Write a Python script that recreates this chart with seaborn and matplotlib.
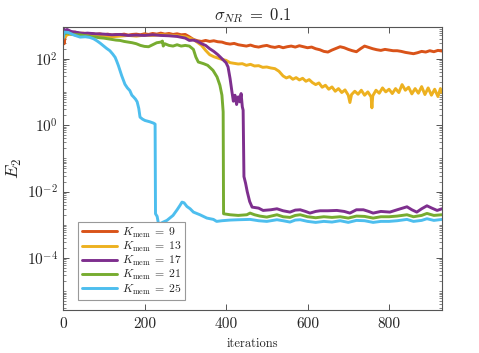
import numpy as np
import pandas as pd
import matplotlib
matplotlib.use("Agg")
import matplotlib.pyplot as plt
import matplotlib.ticker as mticker
import seaborn as sns

# ---------------- data (iteration, log10(E2)) ----------------
labels = [r"$K_{\rm mem}\:=\:9$", r"$K_{\rm mem}\:=\:13$", r"$K_{\rm mem}\:=\:17$",
          r"$K_{\rm mem}\:=\:21$", r"$K_{\rm mem}\:=\:25$"]
colors = ["#D95319", "#EDB120", "#7E2F8E", "#77AC30", "#4DBEEE"]

x_k9 = [0, 3, 6, 10, 20, 30, 40, 50, 60, 70, 80, 90, 100, 110, 120, 130, 140, 150, 160, 170,
        180, 190, 200, 210, 220, 230, 240, 250, 260, 270, 280, 290, 300, 310, 320, 330, 340, 350,
        360, 370, 380, 390, 400, 410, 420, 430, 440, 450, 460, 470, 480, 490, 500, 510, 520, 530,
        540, 550, 560, 570, 580, 590, 600, 610, 620, 630, 640, 650, 660, 670, 680, 690, 700, 710,
        720, 730, 740, 750, 760, 770, 780, 790, 800, 810, 820, 830, 840, 850, 860, 870, 880, 890,
        900, 910, 920, 930]
logE_k9 = [2.55, 2.45, 2.75, 2.80, 2.78, 2.80, 2.76, 2.77, 2.74, 2.76, 2.73, 2.75, 2.72, 2.74,
           2.71, 2.73, 2.72, 2.74, 2.71, 2.73, 2.74, 2.72, 2.75, 2.73, 2.76, 2.74, 2.77, 2.74,
           2.76, 2.73, 2.75, 2.72, 2.73, 2.66, 2.58, 2.54, 2.52, 2.55, 2.52, 2.54, 2.51, 2.50,
           2.46, 2.44, 2.46, 2.42, 2.40, 2.38, 2.41, 2.37, 2.35, 2.38, 2.40, 2.36, 2.34, 2.37,
           2.33, 2.36, 2.38, 2.35, 2.39, 2.36, 2.33, 2.35, 2.30, 2.27, 2.22, 2.20, 2.26, 2.31,
           2.36, 2.33, 2.28, 2.24, 2.21, 2.30, 2.38, 2.34, 2.30, 2.27, 2.25, 2.28, 2.26, 2.24,
           2.24, 2.22, 2.19, 2.17, 2.15, 2.18, 2.22, 2.20, 2.24, 2.21, 2.25, 2.23]

x_k13 = [0, 5, 10, 20, 40, 60, 80, 100, 120, 140, 160, 180, 200, 220, 240, 260, 280, 300, 320,
         340, 350, 360, 370, 380, 390, 400, 410, 420, 430, 440, 450, 460, 470, 480, 490, 500, 510,
         520, 530, 540, 548, 556, 564, 572, 580, 588, 596, 604, 612, 620, 628, 636, 644, 652, 660,
         668, 676, 684, 692, 700, 704, 708, 716, 724, 732, 740, 748, 756, 758, 760, 768, 776, 784,
         792, 800, 808, 816, 824, 832, 840, 848, 856, 864, 872, 880, 888, 896, 904, 912, 920, 926,
         930]
logE_k13 = [2.75, 2.65, 2.72, 2.74, 2.70, 2.72, 2.67, 2.68, 2.66, 2.68, 2.70, 2.68, 2.71, 2.70,
            2.72, 2.71, 2.69, 2.66, 2.58, 2.40, 2.25, 2.12, 2.06, 2.02, 1.98, 1.95, 1.88, 1.86,
            1.84, 1.85, 1.80, 1.83, 1.78, 1.79, 1.74, 1.75, 1.72, 1.70, 1.62, 1.48, 1.42, 1.46,
            1.38, 1.43, 1.36, 1.41, 1.32, 1.37, 1.28, 1.22, 1.27, 1.14, 1.20, 1.08, 1.15, 1.02,
            1.10, 0.98, 1.06, 0.90, 0.68, 0.92, 1.02, 0.93, 1.05, 0.90, 1.00, 0.85, 0.52, 0.88,
            1.05, 0.96, 1.12, 1.00, 1.08, 0.95, 1.10, 0.98, 1.22, 1.05, 1.14, 0.94, 1.10, 0.96,
            1.16, 0.92, 1.12, 0.90, 1.08, 0.86, 1.10, 0.98]

x_k17 = [0, 5, 10, 20, 30, 40, 50, 60, 80, 100, 120, 140, 160, 180, 200, 220, 240, 260, 280,
         300, 310, 320, 330, 340, 350, 360, 370, 380, 390, 400, 405, 410, 414, 418, 422, 426, 430,
         434, 437, 440, 442, 444, 448, 452, 458, 464, 480, 491, 510, 525, 540, 557, 570, 582, 595,
         606, 620, 631, 650, 672, 690, 704, 720, 737, 750, 761, 780, 802, 820, 844, 856, 868, 880,
         893, 905, 918, 930]
logE_k17 = [2.92, 2.85, 2.88, 2.82, 2.80, 2.78, 2.76, 2.77, 2.75, 2.74, 2.72, 2.73, 2.70, 2.71,
            2.70, 2.72, 2.70, 2.69, 2.67, 2.62, 2.55, 2.56, 2.52, 2.45, 2.40, 2.30, 2.22, 2.12,
            2.00, 1.88, 1.75, 1.40, 1.05, 0.72, 0.90, 0.62, 0.85, 0.70, 0.95, 0.55, 0.45, -1.55,
            -1.75, -2.00, -2.30, -2.47, -2.50, -2.57, -2.55, -2.52, -2.58, -2.62, -2.56, -2.55,
            -2.60, -2.65, -2.60, -2.58, -2.58, -2.57, -2.60, -2.65, -2.55, -2.55, -2.60, -2.65,
            -2.60, -2.62, -2.55, -2.46, -2.55, -2.62, -2.52, -2.43, -2.50, -2.57, -2.52]

x_k21 = [0, 5, 10, 20, 30, 40, 50, 60, 70, 80, 90, 100, 110, 120, 130, 140, 150, 160, 170, 180,
         190, 200, 210, 220, 230, 240, 244, 246, 250, 260, 270, 280, 290, 300, 310, 320, 326, 332,
         345, 355, 368, 378, 385, 390, 393, 394, 410, 430, 451, 459, 470, 483, 500, 525, 540, 557,
         570, 582, 600, 620, 640, 660, 680, 700, 720, 740, 761, 780, 800, 820, 844, 860, 880, 893,
         910, 930]
logE_k21 = [2.82, 2.75, 2.78, 2.74, 2.72, 2.72, 2.70, 2.68, 2.66, 2.65, 2.63, 2.62, 2.60, 2.58,
            2.56, 2.55, 2.52, 2.50, 2.48, 2.45, 2.40, 2.37, 2.36, 2.42, 2.48, 2.50, 2.53, 2.38,
            2.45, 2.40, 2.38, 2.42, 2.38, 2.40, 2.38, 2.28, 2.05, 1.90, 1.85, 1.80, 1.65, 1.45,
            1.20, 0.90, 0.40, -2.67, -2.70, -2.72, -2.70, -2.65, -2.70, -2.74, -2.77, -2.70,
            -2.76, -2.78, -2.72, -2.70, -2.76, -2.79, -2.76, -2.78, -2.76, -2.80, -2.74, -2.75,
            -2.80, -2.76, -2.76, -2.74, -2.70, -2.76, -2.72, -2.66, -2.72, -2.70]

x_k25 = [0, 3, 13, 25, 42, 55, 66, 75, 83, 91, 99, 107, 115, 122, 128, 132, 136, 140, 144, 148,
         152, 158, 164, 169, 173, 178, 182, 186, 189, 195, 201, 213, 222, 226, 227, 231, 234, 238,
         246, 255, 262, 270, 280, 287, 292, 297, 304, 312, 320, 336, 353, 369, 377, 390, 410, 430,
         459, 480, 500, 525, 540, 557, 570, 582, 600, 620, 640, 660, 680, 700, 720, 740, 761, 780,
         800, 820, 844, 860, 880, 893, 910, 930]
logE_k25 = [2.60, 2.80, 2.79, 2.72, 2.65, 2.66, 2.64, 2.60, 2.54, 2.47, 2.39, 2.31, 2.24, 2.14,
            2.04, 1.92, 1.79, 1.64, 1.49, 1.36, 1.23, 1.12, 1.04, 0.90, 0.85, 0.78, 0.70, 0.50,
            0.24, 0.18, 0.14, 0.10, 0.06, 0.03, -2.67, -2.75, -2.95, -2.97, -2.92, -2.87, -2.80,
            -2.72, -2.55, -2.42, -2.32, -2.34, -2.45, -2.52, -2.62, -2.70, -2.80, -2.84, -2.90,
            -2.88, -2.86, -2.85, -2.84, -2.88, -2.90, -2.85, -2.88, -2.92, -2.86, -2.85, -2.90,
            -2.93, -2.90, -2.92, -2.88, -2.93, -2.87, -2.88, -2.93, -2.90, -2.90, -2.88, -2.84,
            -2.90, -2.87, -2.82, -2.87, -2.84]

xs = [x_k9, x_k13, x_k17, x_k21, x_k25]
ys = [logE_k9, logE_k13, logE_k17, logE_k21, logE_k25]

frames = []
for lab, xv, lv in zip(labels, xs, ys):
    frames.append(pd.DataFrame({"iter": xv, "E2": 10.0 ** np.asarray(lv), "K": lab}))
df = pd.concat(frames, ignore_index=True)

# ---------------- style ----------------
sns.set_theme(style="white")
plt.rcParams["mathtext.fontset"] = "cm"
plt.rcParams["font.family"] = ["cmr10", "DejaVu Serif"]
plt.rcParams["axes.formatter.use_mathtext"] = True

fig = plt.figure(figsize=(4.79, 3.53), dpi=100)
ax = fig.add_axes([0.1315, 0.1218, 0.7913, 0.8017])

sns.lineplot(data=df, x="iter", y="E2", hue="K", hue_order=labels,
             palette=colors, estimator=None, sort=False, linewidth=2.1, ax=ax)

ax.set_yscale("log")
ax.set_xlim(0, 930)
ax.set_ylim(2.7e-6, 900)

ax.xaxis.set_major_locator(mticker.FixedLocator([0, 200, 400, 600, 800]))
ax.xaxis.set_major_formatter(mticker.FormatStrFormatter("%d"))
ax.yaxis.set_major_locator(mticker.FixedLocator([1e-4, 1e-2, 1e0, 1e2]))
ax.yaxis.set_major_formatter(mticker.LogFormatterSciNotation())
ax.yaxis.set_minor_locator(mticker.LogLocator(base=10, subs=np.arange(1, 10), numticks=100))
ax.yaxis.set_minor_formatter(mticker.NullFormatter())

spine_col = "#555555"
for s in ax.spines.values():
    s.set_visible(True)
    s.set_color(spine_col)
    s.set_linewidth(0.8)

ax.tick_params(axis="both", which="major", direction="in", length=4, width=0.7,
               color=spine_col, top=True, right=True, bottom=True, left=True,
               labelsize=11, labelcolor="#262626")
ax.tick_params(axis="y", which="minor", direction="in", length=2.2, width=0.5,
               color=spine_col, right=True, left=True)
ax.tick_params(axis="x", which="major", pad=5)

ax.set_title(r"$\sigma_{NR}\;=\;0.1$", fontsize=12, pad=5, color="#262626")
ax.set_xlabel("iterations", fontsize=9, color="#262626", labelpad=5)
ax.set_ylabel(r"$E_2$", fontsize=13, color="#262626", labelpad=2)

leg = ax.legend(loc="lower left", bbox_to_anchor=(0.04, 0.035), borderaxespad=0,
                fontsize=8.5, frameon=True, fancybox=False, framealpha=1,
                edgecolor="#999999", handlelength=3.0, handletextpad=0.4,
                labelspacing=0.02, borderpad=0.3)
leg.get_frame().set_linewidth(0.8)
for h in leg.get_lines():
    h.set_linewidth(2.1)

fig.savefig("out.png", dpi=100)
